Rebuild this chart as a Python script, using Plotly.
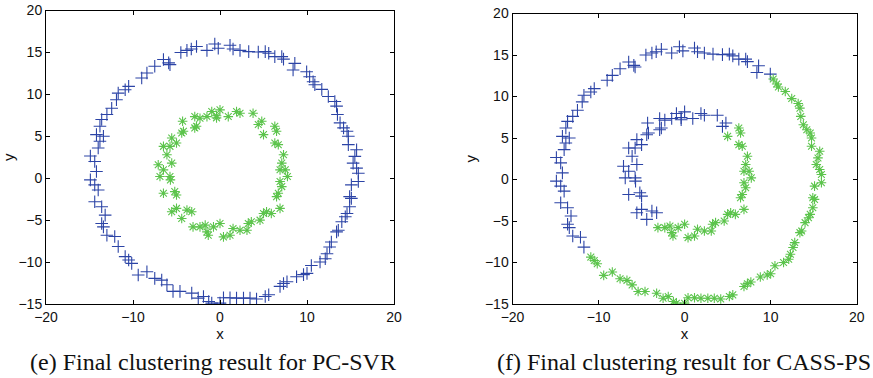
import plotly.graph_objects as go

# ---------------- data ----------------
outer_x = [-4.5, -3.8, -3.3, -2.7, -1.5, -0.6, -0.2, 1.15, 1.5, 2.3, 3.3, 4.4, 5.2, 5.6, 6.3, 7.1, 7.3, 8.6, 8.4, 9.96,
           10.3, 10.7, 10.9, 11.7, 12.45, 13.2, 13.4, 13.5, 13.8, 14.2, 14.6, 14.75, 14.75, 15.7, 15.5, 15.3, 15.7, 15.9, 15.9, 15.1,
           14.9, 15.1, 14.9, 14.6, 14.4, 14.0, 13.6, 13.4, 12.8, 12.6, 12.3, 12.1, 11.5, 10.5, 10.0, 9.6, 8.8, 7.7, 7.3, 6.9,
           5.6, 5.2, 4.2, 3.45, 2.7, 1.9, 1.15, 0.4, 0.0, -0.95, -1.3, -1.9, -2.5, -3.25, -4.6, -5.4, -6.1, -6.7, -7.5, -8.4,
           -9.4, -10.15, -10.5, -10.9, -11.7, -12.1, -13.0, -13.4, -13.6, -13.2, -13.6, -14.4, -14.0, -14.4, -14.9, -14.2, -14.4, -14.9, -14.0, -13.8,
           -13.4, -14.2, -13.8, -13.6, -13.0, -12.45, -11.9, -11.7, -10.9, -10.5, -9.0, -8.4, -7.5, -6.5, -5.9, -5.75]
outer_y = [15.0, 15.25, 15.4, 15.7, 15.25, 16.0, 15.5, 15.85, 15.4, 15.25, 15.1, 15.05, 15.1, 14.9, 14.5, 14.5, 14.2, 13.7, 12.9, 12.7,
           12.1, 11.5, 11.15, 10.6, 9.75, 9.15, 8.6, 7.6, 6.6, 6.0, 5.6, 5.0, 4.0, 3.4, 2.6, 1.8, 1.2, 0.6, -0.4, -0.8,
           -2.2, -2.4, -3.4, -4.2, -4.6, -5.2, -6.2, -6.4, -7.6, -8.2, -9.0, -9.6, -10.0, -10.4, -11.35, -11.5, -11.75, -12.35, -12.55, -12.9,
           -13.9, -14.1, -14.4, -14.3, -14.3, -14.3, -14.25, -14.25, -14.9, -14.9, -14.7, -14.1, -14.3, -13.7, -13.5, -13.5, -12.7, -12.15, -11.95, -11.15,
           -11.55, -10.15, -9.75, -9.35, -8.15, -6.95, -6.8, -5.8, -5.4, -4.4, -3.4, -2.8, -1.4, -0.8, -0.2, 0.8, 2.0, 2.65, 3.6, 4.4,
           5.0, 5.2, 6.2, 7.0, 7.6, 8.35, 9.35, 10.15, 10.55, 10.95, 11.95, 12.55, 13.35, 14.15, 13.75, 13.55]

inner_x = [4.8, 4.4, 3.8, 2.3, 1.9, 0.95, 0.0, -0.4, -0.4, -0.95, -1.5, -2.3, -2.9, -2.9, -2.7, -4.3, -4.2, -4.4, -5.55, -5.0,
           -5.75, -6.5, -6.1, -5.55, -7.1, -6.5, -6.9, -5.75, -5.7, -6.5, -5.2, -5.0, -5.55, -5.0, -4.4, -3.8,
           -3.25, -3.1, -2.3, -1.7, -1.5, -1.35, -0.75, 0.0, 0.4, 1.15, 1.5, 2.3, 3.1, 3.25, 3.6, 4.6, 5.0, 5.35, 5.9, 6.9,
           6.5, 6.7, 7.1, 6.9, 7.75, 7.5, 6.9, 7.1, 7.3, 6.7, 6.3, 6.5, 6.3, 5.0]
inner_y = [6.8, 6.4, 7.75, 7.75, 7.95, 7.35, 8.15, 7.45, 7.2, 7.95, 7.35, 7.15, 7.35, 6.0, 6.2, 6.8, 5.6, 5.4, 4.8, 4.2,
           3.8, 3.8, 2.8, 1.8, 1.6, 1.0, 0.2, 0.2, -0.2, -1.8, -1.6, -2.0, -4.0, -3.6, -4.8, -3.8,
           -4.0, -5.8, -5.8, -5.6, -6.4, -6.8, -5.8, -5.4, -7.0, -6.8, -6.0, -6.2, -6.2, -5.4, -5.2, -5.0, -4.2, -4.0, -4.2, -3.6,
           -2.2, -1.8, -1.0, -0.4, 0.2, 1.0, 1.0, 1.8, 2.8, 4.0, 4.2, 5.6, 6.2, 5.2]

# cluster labels: 'b' = cluster 1 (blue +), 'g' = cluster 2 (green *)
outer_labels_e = "bbbbbbbbbbbbbbbbbbbbbbbbbbbbbbbbbbbbbbbbbbbbbbbbbbbbbbbbbbbbbbbbbbbbbbbbbbbbbbbbbbbbbbbbbbbbbbbbbbbbbbbbbbbbbbbbbbbb"
inner_labels_e = "gggggggggggggggggggggggggggggggggggggggggggggggggggggggggggggggggggggg"
outer_labels_f = ("bbbbbbbbbbbbbbbbbbbb"
                  "gggggggggggggggggggggggggggggggggggggggggggggggggggggggggggggggg"
                  "bbbbbbbbbbbbbbbbbbbbbbbbbbbbbbbbb")
inner_labels_f = ("bbbbbbbbbbbbbbbbbbbbbbbbbbbbbbbbbbbb"
                  "gggggggggggggggggggggggggggggggggg")

captions = ["(e) Final clustering result for PC-SVR", "(f) Final clustering result for CASS-PS"]
x_ticks = [-20, -10, 0, 10, 20]
y_ticks = [-15, -10, -5, 0, 5, 10, 15, 20]

# ---------------- styling ----------------
BLUE = "rgb(44,68,166)"
GREEN = "rgb(92,196,76)"
W, H = 873, 378

all_x = outer_x + inner_x
all_y = outer_y + inner_y

fig = go.Figure()


def add_panel(labels, xa, ya):
    for lab, sym, col, size in (("b", "cross-thin-open", BLUE, 9), ("g", "asterisk-open", GREEN, 8)):
        xs = [x for x, l in zip(all_x, labels) if l == lab]
        ys = [y for y, l in zip(all_y, labels) if l == lab]
        fig.add_trace(go.Scatter(
            x=xs, y=ys, mode="markers", xaxis=xa, yaxis=ya, showlegend=False,
            marker=dict(symbol=sym, size=size, color=col, line=dict(color=col, width=1.1)),
        ))


add_panel(outer_labels_e + inner_labels_e, "x", "y")
add_panel(outer_labels_f + inner_labels_f, "x2", "y2")

axis_common = dict(
    showline=True, linecolor="black", linewidth=1, mirror="ticks",
    ticks="inside", ticklen=4, tickcolor="black", tickwidth=1,
    showgrid=False, zeroline=False, automargin=False,
    tickfont=dict(family="Liberation Sans, Arial, sans-serif", size=14, color="#111"),
    title_font=dict(family="Liberation Sans, Arial, sans-serif", size=15, color="#111"),
)


def px_x(p):
    return p / W


def px_y(p):
    return (H - p) / H


left_dom = [px_x(46), px_x(394)]
right_dom = [px_x(512.5), px_x(856.7)]
ydom_l = [px_y(304), px_y(10.5)]
ydom_r = [px_y(304), px_y(13.5)]

fig.update_layout(
    width=W, height=H, margin=dict(l=0, r=0, t=0, b=0),
    paper_bgcolor="white", plot_bgcolor="white",
    xaxis=dict(axis_common, domain=left_dom, range=[-20, 20], tickvals=x_ticks, anchor="y",
               title=dict(text="x", standoff=2)),
    yaxis=dict(axis_common, domain=ydom_l, range=[-15, 20], tickvals=y_ticks, anchor="x",
               title=dict(text="y", standoff=4)),
    xaxis2=dict(axis_common, domain=right_dom, range=[-20, 20], tickvals=x_ticks, anchor="y2",
                title=dict(text="x", standoff=2)),
    yaxis2=dict(axis_common, domain=ydom_r, range=[-15, 20], tickvals=y_ticks, anchor="x2",
                title=dict(text="y", standoff=4)),
)

for cx, text in zip([213, 684], captions):
    fig.add_annotation(
        x=px_x(cx), y=px_y(362), xref="paper", yref="paper", text=text, showarrow=False,
        xanchor="center", yanchor="middle",
        font=dict(family="Liberation Serif, Times New Roman, serif", size=24, color="#111"),
    )

# the page body has a default 8px margin; remove it so the figure fills the window exactly
fig.write_html(
    "out.html",
    config={"displayModeBar": False},
    post_script="document.body.style.margin='0';document.body.style.overflow='hidden';",
)
